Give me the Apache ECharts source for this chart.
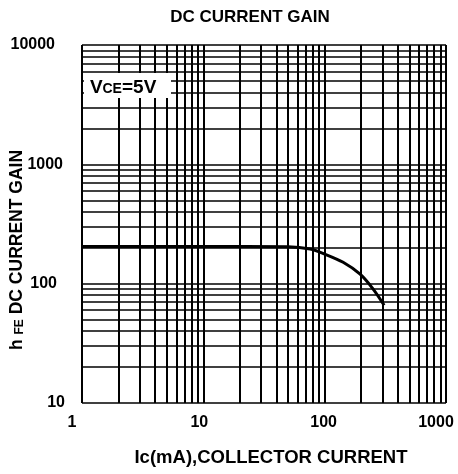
<!DOCTYPE html>
<html>
<head>
<meta charset="utf-8">
<script src="https://cdn.jsdelivr.net/npm/echarts@6/dist/echarts.min.js"></script>
<style>
  html, body { margin: 0; padding: 0; background: #fff; }
  #chart { width: 458px; height: 474px; }
</style>
</head>
<body>
<div id="chart"></div>
<script>
  // collector current (mA) and hFE
  var icValues = [1, 10, 50, 76, 100, 142, 196, 251, 309];
  var hfeValues = [205, 205, 204, 195, 177, 151, 120, 90, 66];

  // decade ticks of both log axes
  var xDecades = [1, 10, 100, 1000];
  var yDecades = [10, 100, 1000, 10000];
  var minorSteps = [2, 3, 4, 5, 6, 7, 8, 9];

  // label nudges so the tick texts sit where the original puts them
  var xLabelShift = { 1: 20, 10: 8, 100: 2, 1000: 20 };
  var yLabelShift = { 10: 0, 100: 8, 1000: 2, 10000: 10 };

  function gridValues(decades) {
    var out = [];
    for (var i = 0; i < decades.length; i++) {
      out.push(decades[i]);
      if (i < decades.length - 1) {
        for (var j = 0; j < minorSteps.length; j++) out.push(decades[i] * minorSteps[j]);
      }
    }
    return out;
  }

  var curve = icValues.map(function (v, i) { return [v, hfeValues[i]]; });
  var vLines = gridValues(xDecades).map(function (v) { return { xAxis: v }; });
  var hLines = gridValues(yDecades).map(function (v) { return { yAxis: v }; });

  var FONT = '"Liberation Sans", Arial, sans-serif';

  function lbl(pad) {
    return { padding: [0, pad, 0, 0], fontSize: 16, fontWeight: 'bold', fontFamily: FONT, color: '#000' };
  }

  var chart = echarts.init(document.getElementById('chart'));
  chart.setOption({
    animation: false,
    backgroundColor: '#fff',
    grid: { left: 82, right: 12, top: 45, bottom: 71 },
    xAxis: {
      type: 'log', logBase: 10, min: 1, max: 1000,
      axisLine: { show: false },
      axisTick: { show: false },
      splitLine: { show: false },
      axisLabel: {
        margin: 12,
        formatter: function (v) { return '{s' + xLabelShift[v] + '|' + v + '}'; },
        rich: { s20: lbl(20), s8: lbl(8), s2: lbl(2) }
      }
    },
    yAxis: {
      type: 'log', logBase: 10, min: 10, max: 10000,
      axisLine: { show: false },
      axisTick: { show: false },
      splitLine: { show: false },
      axisLabel: {
        margin: 17,
        formatter: function (v) { return '{p' + yLabelShift[v] + '|' + v + '}'; },
        rich: { p0: lbl(0), p8: lbl(8), p2: lbl(2), p10: lbl(10) }
      }
    },
    series: [
      {
        // log paper grid
        type: 'line', data: [], silent: true, z: 1,
        markLine: {
          silent: true, symbol: ['none', 'none'], label: { show: false },
          lineStyle: { color: '#000', width: 2, type: 'solid' },
          data: vLines
        }
      },
      {
        type: 'line', data: [], silent: true, z: 1,
        markLine: {
          silent: true, symbol: ['none', 'none'], label: { show: false },
          lineStyle: { color: '#000', width: 1.5, type: 'solid' },
          data: hLines
        }
      },
      {
        type: 'line', data: curve, smooth: 0.3, showSymbol: false, z: 5,
        lineStyle: { color: '#000', width: 3 }
      }
    ],
    graphic: [
      {
        type: 'text', x: 250, y: 17, z: 100,
        style: { text: 'DC CURRENT GAIN', font: 'bold 17px ' + FONT, fill: '#000', align: 'center', verticalAlign: 'middle' }
      },
      {
        type: 'text', x: 271, y: 458, z: 100,
        style: { text: 'Ic(mA),COLLECTOR CURRENT', font: 'bold 18.5px ' + FONT, fill: '#000', align: 'center', verticalAlign: 'middle' }
      },
      {
        type: 'text', x: 17, y: 250, rotation: Math.PI / 2, z: 100,
        style: {
          text: '{a|h }{b|FE}{a| DC CURRENT GAIN}',
          align: 'center', verticalAlign: 'middle',
          rich: {
            a: { fontSize: 17.5, fontWeight: 'bold', fontFamily: FONT, fill: '#000', verticalAlign: 'bottom' },
            b: { fontSize: 12, fontWeight: 'bold', fontFamily: FONT, fill: '#000', verticalAlign: 'bottom' }
          }
        }
      },
      {
        type: 'rect', z: 99,
        shape: { x: 84, y: 73, width: 87, height: 25 },
        style: { fill: '#fff' }
      },
      {
        type: 'text', x: 90, y: 97, z: 100,
        style: { text: 'V', font: 'bold 19px ' + FONT, fill: '#000', align: 'left', verticalAlign: 'bottom' }
      },
      {
        type: 'text', x: 102.5, y: 96, z: 100,
        style: { text: 'CE', font: 'bold 14px ' + FONT, fill: '#000', align: 'left', verticalAlign: 'bottom' }
      },
      {
        type: 'text', x: 122, y: 97, z: 100,
        style: { text: '=5V', font: 'bold 19px ' + FONT, fill: '#000', align: 'left', verticalAlign: 'bottom' }
      }
    ]
  });
</script>
</body>
</html>
